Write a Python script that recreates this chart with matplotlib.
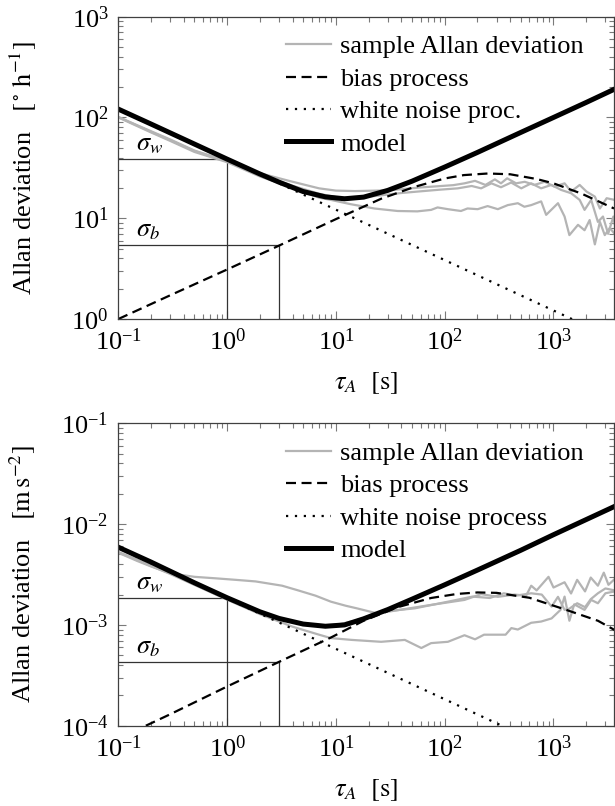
import matplotlib
matplotlib.use('Agg')
import matplotlib.pyplot as plt
from matplotlib.ticker import NullFormatter

plt.rcParams['font.family'] = ['Liberation Serif', 'DejaVu Serif']
plt.rcParams['mathtext.fontset'] = 'stix'
plt.rcParams['font.size'] = 19

GRAY = '#b4b4b4'
REF = '#333333'

# ---- gyroscope [deg/h] ----
gyro_tau_a = [0.1, 0.2, 0.3, 0.5, 1, 2, 3.7, 7, 10, 15, 30, 60, 120, 152, 190, 237, 289, 329, 375,
              453, 544, 667, 830, 1021, 1264, 1453, 1740, 2010, 2400, 2670, 3080, 3650]
gyro_sig_a = [101, 73, 60.5, 47, 37, 28, 23.5, 19.8, 18.8, 18.6, 18.9, 20.2, 21.3, 22.2, 23.5, 21.4, 24.3, 22.2, 24.9,
              22.2, 23.0, 21.4, 23.0, 20.6, 22.2, 18.4, 21.4, 18.4, 16.4, 12.5, 15.8, 15.2]
gyro_tau_b = [0.1, 0.2, 0.3, 0.5, 1, 2, 4, 7, 10, 15, 25, 40, 60, 90, 132, 177, 216, 269, 329, 408,
              506, 624, 770, 955, 1175, 1453, 1740, 1930, 2220, 2560, 2850, 3180, 3550, 3650]
gyro_sig_b = [101, 72, 59.5, 46.5, 36.5, 27, 21, 17.5, 16.2, 15.8, 16.8, 17.8, 18.5, 19.2, 19.8, 20.9, 19.8, 22.2, 20.3, 22.6,
              19.8, 22.2, 19.8, 21.4, 19.1, 17.7, 15.2, 12.1, 15.2, 9.2, 10.4, 7.0, 10.4, 8.8]
gyro_tau_c = [0.1, 0.2, 0.3, 0.5, 1, 2, 4, 7, 9, 13.6, 22.5, 36.9, 56, 75, 86, 107, 141, 162, 201, 248, 308,
              380, 470, 540, 624, 770, 856, 1100, 1264, 1400, 1680, 1930, 2150, 2400, 2670, 2960, 3290, 3650]
gyro_sig_c = [100, 71, 58.5, 45.5, 36, 26, 20, 16, 15.2, 13.8, 12.5, 11.8, 11.7, 12.1, 12.8, 12.3, 11.8, 12.5, 12.3, 13.2, 12.3,
              13.5, 14.1, 13.0, 13.5, 14.7, 10.8, 14.1, 10.4, 6.8, 8.6, 7.6, 9.6, 5.5, 9.2, 6.8, 8.0, 7.0]

gyro_bias_tau = [0.1, 0.3, 1, 3, 10, 26, 53, 100, 150, 250, 400, 700, 1000, 1800, 3600]
gyro_bias_sig = [1.0, 1.72, 3.1, 5.35, 9.8, 15.6, 20.5, 24.8, 26.8, 27.8, 27.3, 24.5, 22.2, 17.6, 12.5]
gyro_white_tau = [0.1, 3600]
gyro_white_sig = [121.7, 0.64]
gyro_model_tau = [0.1, 0.2, 0.5, 1, 2, 3, 5, 8, 12, 18, 30, 50, 100, 200, 500, 1000, 2000, 3600]
gyro_model_sig = [121, 86, 54.5, 38.6, 27.5, 22.8, 18.4, 16.3, 15.6, 16.2, 18.9, 23.3, 32.2, 45, 71, 100, 141, 190]
gyro_sigma_w = 38.5   # at tau = 1 s
gyro_sigma_b = 5.4    # at tau = 3 s

# ---- accelerometer [m/s^2] ----
acc_tau_a = [0.1, 0.15, 0.2, 0.3, 0.5, 0.78, 1.2, 1.83, 3.2, 4.5, 6.5, 9, 12.3, 15.6, 24, 37, 75, 152, 216, 308,
             438, 560, 624, 700, 900, 1000, 1264, 1450, 1650, 1950, 2200, 2560, 2900, 3200, 3650]
acc_sig_a = [5.2e-3, 4.3e-3, 3.8e-3, 3.25e-3, 3.0e-3, 2.9e-3, 2.8e-3, 2.7e-3, 2.45e-3, 2.2e-3, 1.95e-3, 1.7e-3, 1.55e-3,
             1.46e-3, 1.3e-3, 1.4e-3, 1.58e-3, 1.77e-3, 2.02e-3, 1.9e-3, 2.0e-3, 1.95e-3, 2.45e-3, 2.2e-3, 3.0e-3,
             2.35e-3, 2.65e-3, 2.05e-3, 2.8e-3, 2.15e-3, 2.95e-3, 2.45e-3, 3.3e-3, 2.5e-3, 2.85e-3]
acc_tau_b = [0.1, 0.3, 1, 2, 4, 7, 10, 15, 26, 53, 107, 180, 260, 350, 450, 624, 780, 960, 1100, 1264,
             1400, 1650, 1950, 2200, 2560, 3000, 3650]
acc_sig_b = [5.3e-3, 3.25e-3, 1.8e-3, 1.32e-3, 1.08e-3, 9.9e-4, 1.0e-3, 1.1e-3, 1.35e-3, 1.46e-3, 1.7e-3, 1.91e-3,
             1.85e-3, 2.06e-3, 1.95e-3, 2.06e-3, 2.0e-3, 1.52e-3, 1.9e-3, 1.41e-3, 1.45e-3, 1.64e-3, 1.5e-3,
             1.8e-3, 2.06e-3, 2.3e-3, 2.2e-3]
acc_tau_c = [0.1, 0.3, 1, 2, 4, 7, 9, 14, 26, 43, 61, 75, 107, 152, 190, 230, 363, 410, 470, 624, 770, 960,
             1160, 1264, 1400, 1550, 1930, 2220, 2560, 3000, 3650]
acc_sig_c = [5.25e-3, 3.2e-3, 1.78e-3, 1.28e-3, 9.6e-4, 8.0e-4, 7.4e-4, 7.1e-4, 6.8e-4, 7.1e-4, 5.9e-4, 6.6e-4,
             6.8e-4, 7.9e-4, 7.2e-4, 8.0e-4, 8.0e-4, 9.3e-4, 9.0e-4, 1.05e-3, 1.08e-3, 1.16e-3, 1.41e-3, 1.91e-3,
             1.1e-3, 1.6e-3, 1.41e-3, 1.77e-3, 1.64e-3, 2.06e-3, 2.15e-3]

acc_bias_tau = [0.179, 0.3, 1, 3, 9, 18, 37, 75, 130, 200, 300, 600, 1260, 2560, 3650]
acc_bias_sig = [1.0e-4, 1.3e-4, 2.45e-4, 4.3e-4, 7.5e-4, 1.1e-3, 1.5e-3, 1.85e-3, 2.03e-3, 2.1e-3, 2.08e-3,
                1.86e-3, 1.43e-3, 1.1e-3, 8.9e-4]
acc_white_tau = [0.1, 3600]
acc_white_sig = [5.79e-3, 3.05e-5]
acc_model_tau = [0.1, 0.2, 0.5, 1, 2, 3, 5, 8, 12, 18, 30, 50, 100, 200, 500, 1000, 2000, 3600]
acc_model_sig = [5.9e-3, 4.2e-3, 2.62e-3, 1.86e-3, 1.35e-3, 1.16e-3, 1.02e-3, 9.7e-4, 1.0e-3, 1.15e-3, 1.42e-3,
                 1.8e-3, 2.5e-3, 3.5e-3, 5.5e-3, 7.85e-3, 1.11e-2, 1.49e-2]
acc_sigma_w = 1.84e-3
acc_sigma_b = 4.3e-4


def draw_panel(ax, samples, bias, white, model, sigma_w, sigma_b, ylim, ylabel, white_label):
    ymin = ylim[0]
    # reference lines for the identified parameters
    ax.plot([0.1, 1], [sigma_w, sigma_w], color=REF, lw=0.9)
    ax.plot([1, 1], [ymin, sigma_w], color=REF, lw=0.9)
    ax.plot([0.1, 3], [sigma_b, sigma_b], color=REF, lw=0.9)
    ax.plot([3, 3], [ymin, sigma_b], color=REF, lw=0.9)
    ax.text(0.145, sigma_w * 1.07, r'$\sigma_w$', va='bottom', ha='left')
    ax.text(0.145, sigma_b * 1.07, r'$\sigma_b$', va='bottom', ha='left')

    for i, (t, s) in enumerate(samples):
        ax.plot(t, s, color=GRAY, lw=1.6, label='sample Allan deviation' if i == 0 else None)
    ax.plot(bias[0], bias[1], color='black', lw=1.6, linestyle=(0, (4.5, 2.5)), label='bias process')
    ax.plot(white[0], white[1], color='black', lw=1.6, linestyle=(0, (1, 3)), label=white_label)
    ax.plot(model[0], model[1], color='black', lw=3.6, label='model')

    ax.set_xscale('log')
    ax.set_yscale('log')
    ax.set_xlim(0.1, 3600)
    ax.set_ylim(*ylim)
    ax.xaxis.set_minor_formatter(NullFormatter())
    ax.yaxis.set_minor_formatter(NullFormatter())
    ax.tick_params(which='both', direction='in', top=True, right=True, color='#7a7a7a')
    ax.tick_params(which='major', length=6, width=0.8, pad=7)
    ax.tick_params(which='minor', length=3.5, width=0.8)
    for sp in ax.spines.values():
        sp.set_color('#404040')
        sp.set_linewidth(0.9)
    ax.set_xlabel(r'$\tau_A$  $[\mathrm{s}]$', labelpad=11)
    ax.set_ylabel(ylabel)
    ax.yaxis.set_label_coords(-0.163, 0.5)
    ax.legend(loc='upper left', bbox_to_anchor=(0.338, 0.94), frameon=False, borderpad=0,
              borderaxespad=0, handlelength=1.7, handletextpad=0.35, labelspacing=0.34)


fig = plt.figure(figsize=(6.15, 8.06), dpi=100)
ax1 = fig.add_axes([0.1924, 0.6042, 0.806, 0.3751])
ax2 = fig.add_axes([0.1924, 0.0996, 0.806, 0.3752])

draw_panel(ax1,
           [(gyro_tau_a, gyro_sig_a), (gyro_tau_b, gyro_sig_b), (gyro_tau_c, gyro_sig_c)],
           (gyro_bias_tau, gyro_bias_sig), (gyro_white_tau, gyro_white_sig),
           (gyro_model_tau, gyro_model_sig), gyro_sigma_w, gyro_sigma_b,
           (1, 1e3), r'Allan deviation   $[^\circ\,\mathrm{h}^{-1}]$', 'white noise proc.')
draw_panel(ax2,
           [(acc_tau_a, acc_sig_a), (acc_tau_b, acc_sig_b), (acc_tau_c, acc_sig_c)],
           (acc_bias_tau, acc_bias_sig), (acc_white_tau, acc_white_sig),
           (acc_model_tau, acc_model_sig), acc_sigma_w, acc_sigma_b,
           (1e-4, 1e-1), r'Allan deviation   $[\mathrm{m\,s}^{-2}]$', 'white noise process')

fig.savefig('out.png', dpi=100)
